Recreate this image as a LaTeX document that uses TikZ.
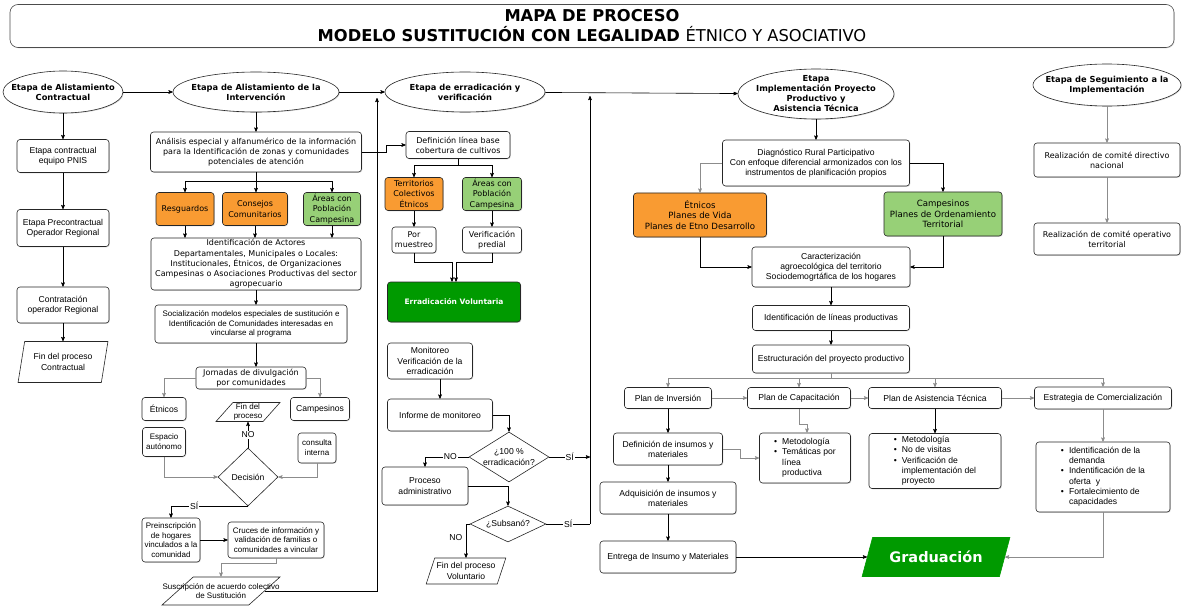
\documentclass[tikz,border=0pt]{standalone}
\usepackage{fontspec}
\setmainfont{Liberation Sans}
\newfontfamily\verd{DejaVu Sans}
\usepackage{tikz}
\usetikzlibrary{shapes,arrows,shadows}

\definecolor{naranja}{HTML}{F99B32}
\definecolor{verdeclaro}{HTML}{97D077}
\definecolor{verdeoscuro}{HTML}{009A00}
\newcommand{\txa}{\fontsize{8.6}{10.2}\selectfont}
\newcommand{\txb}{\fontsize{8}{9.8}\selectfont}
\newcommand{\txv}{\verd\fontsize{8}{10.2}\selectfont}
\newcommand{\txh}{\verd\bfseries\fontsize{8.3}{10}\selectfont}

\begin{document}
\begin{tikzpicture}[x=1pt,y=-1pt,->,>=stealth',semithick]
\tikzstyle{box}=[draw=black!85,rounded corners=3pt,fill=white,align=center,inner sep=1pt,font=\txa,drop shadow={opacity=0.3,shadow xshift=0.8pt,shadow yshift=-0.8pt}]
\tikzstyle{vbox}=[box,font=\txv]
\tikzstyle{etnico}=[vbox,fill=naranja]
\tikzstyle{campo}=[vbox,fill=verdeclaro]
\tikzstyle{stage}=[ellipse,draw=black!85,fill=white,inner sep=0pt,drop shadow={opacity=0.3,shadow xshift=0.8pt,shadow yshift=-0.8pt}]
\tikzstyle{stagetxt}=[font=\txh,align=center]
\tikzstyle{decision}=[diamond,draw=black!85,fill=white,inner sep=0pt,align=center,font=\txa]
\tikzstyle{io}=[trapezium,trapezium stretches=true,draw=black!85,fill=white,inner sep=0pt,align=center,font=\txa]
\tikzstyle{lbl}=[fill=white,inner sep=1pt,font=\txa]
\tikzstyle{gris}=[draw=black!45]

\useasboundingbox (0,0) rectangle (1184,607);

\node[draw=black!70,rounded corners=8pt,minimum width=1164pt,minimum height=43pt,align=center,font=\verd\bfseries\fontsize{16.3}{20}\selectfont,drop shadow={opacity=0.25,shadow xshift=0.8pt,shadow yshift=-0.8pt},fill=white] (titulo) at (592,26) {MAPA DE PROCESO\\MODELO SUSTITUCIÓN CON LEGALIDAD {\mdseries ÉTNICO Y ASOCIATIVO}};

% alistamiento contractual
\node[stage,minimum width=120pt,minimum height=42pt,label={[stagetxt]center:Etapa de Alistamiento\\Contractual}] (ealist) at (63,92) {\phantom{x}};
\node[box,minimum width=92pt,minimum height=33pt] (pnis) at (63,156) {Etapa contractual\\equipo PNIS};
\node[box,minimum width=92pt,minimum height=37pt] (precon) at (63,228) {Etapa Precontractual\\Operador Regional};
\node[box,minimum width=92pt,minimum height=36pt] (contrat) at (63,305) {Contratación\\operador Regional};
\node[io,trapezium left angle=73,trapezium right angle=107,minimum width=90pt,minimum height=41pt] (fincon) at (63,362) {Fin del proceso\\Contractual};
\path (ealist) edge (pnis)
      (pnis) edge (precon)
      (precon) edge (contrat)
      (contrat) edge (fincon);

% alistamiento de la intervencion
\node[stage,minimum width=166pt,minimum height=40pt,label={[stagetxt]center:Etapa de Alistamiento de la\\Intervención}] (eintv) at (256,92) {\phantom{x}};
\node[vbox,minimum width=211pt,minimum height=40pt] (analisis) at (256,152) {Análisis especial y alfanumérico de la información\\para la Identificación de zonas y comunidades\\potenciales de atención};
\node[etnico,minimum width=58pt,minimum height=33pt] (resg) at (185,209) {Resguardos};
\node[etnico,minimum width=65pt,minimum height=33pt] (consejos) at (255,209) {Consejos\\Comunitarios};
\node[campo,minimum width=57pt,minimum height=33pt] (areas) at (332,209) {Áreas con\\Población\\Campesina};
\node[vbox,minimum width=210pt,minimum height=52pt] (actores) at (256,264) {Identificación de Actores\\Departamentales, Municipales o Locales:\\Institucionales, Étnicos, de Organizaciones\\Campesinas o Asociaciones Productivas del sector\\agropecuario};
\node[box,font=\txb,minimum width=192pt,minimum height=38pt] (social) at (251,324) {Socialización modelos especiales de sustitución e\\Identificación de Comunidades interesadas en\\vincularse al programa};
\node[vbox,minimum width=110pt,minimum height=22pt] (jornadas) at (251,378) {Jornadas de divulgación\\por comunidades};
\node[box,minimum width=44pt,minimum height=23pt] (etn) at (164,409) {Étnicos};
\node[box,minimum width=59pt,minimum height=23pt] (camp) at (320,409) {Campesinos};
\node[io,trapezium left angle=62,trapezium right angle=118,minimum width=64pt,minimum height=19pt,label={[font=\txb,align=center]center:Fin del\\proceso}] (finp) at (248,412) {\phantom{x}};
\node[box,font=\txb,minimum width=43pt,minimum height=29pt] (espacio) at (164,442) {Espacio\\autónomo};
\node[box,font=\txb,minimum width=38pt,minimum height=30pt] (consulta) at (317,448) {consulta\\interna};
\node[decision,minimum width=60pt,minimum height=58pt] (decision) at (248,477) {Decisión};
\node[box,font=\txb,minimum width=58pt,minimum height=44pt] (preins) at (171,540) {Preinscripción\\de hogares\\vinculados a la\\comunidad};
\node[box,font=\txb,minimum width=96pt,minimum height=36pt] (cruces) at (276,540) {Cruces de información y\\validación de familias o\\comunidades a vincular};
\node[io,trapezium left angle=62,trapezium right angle=118,minimum width=118pt,minimum height=28pt,label={[font=\txb,align=center]center:Suscripción de acuerdo colectivo\\de Sustitución}] (suscrip) at (221,591) {\phantom{x}};
\coordinate (retorno) at (377,98);

\path (ealist) edge (eintv)
      (eintv) edge (analisis);
\draw (analisis.south) -- ++(0,9) -| (resg);
\draw (analisis.south) -- ++(0,9) -| (areas);
\draw (analisis.south) -- (analisis.south |- consejos.north);
\draw (resg) -- (resg |- actores.north);
\draw (consejos) -- (consejos |- actores.north);
\draw (areas) -- (areas |- actores.north);
\draw (actores) -- (actores |- social.north);
\draw (social.south -| actores) -- (jornadas.north -| actores);
\draw[gris] (jornadas.west) -| (etn);
\draw[gris] (jornadas.east) -| (camp);
\draw (decision) -- node[lbl]{NO} (finp);
\draw[gris] (espacio) |- (decision);
\draw[gris] (consulta) |- (decision);
\draw (decision.south) -| node[lbl,pos=0.35]{SÍ} (preins);
\draw (preins) -- (cruces);
\draw[gris] (cruces.south) -- ++(0,5) -| (suscrip);
\draw (suscrip.east) -| (retorno);

% erradicacion y verificacion
\node[stage,minimum width=160pt,minimum height=40pt,label={[stagetxt]center:Etapa de erradicación y\\verificación}] (errad) at (465,92) {\phantom{x}};
\node[vbox,minimum width=104pt,minimum height=27pt] (lineabase) at (458,145) {Definición línea base\\cobertura de cultivos};
\node[etnico,minimum width=58pt,minimum height=33pt] (territorios) at (414,194) {Territorios\\Colectivos\\Étnicos};
\node[campo,minimum width=59pt,minimum height=33pt] (areas2) at (492,194) {Áreas con\\Población\\Campesina};
\node[vbox,minimum width=44pt,minimum height=26pt] (muestreo) at (414,240) {Por\\muestreo};
\node[vbox,minimum width=59pt,minimum height=26pt] (predial) at (492,240) {Verificación\\predial};
\node[box,fill=verdeoscuro,text=white,font=\verd\bfseries\fontsize{7.5}{9}\selectfont,minimum width=133pt,minimum height=40pt] (voluntaria) at (454,302) {Erradicación Voluntaria};
\node[box,minimum width=85pt,minimum height=36pt] (monitoreo) at (430,361) {Monitoreo\\Verificación de la\\erradicación};
\node[box,minimum width=105pt,minimum height=32pt] (informe) at (440,415) {Informe de monitoreo};
\node[decision,aspect=1.55,minimum width=80pt,minimum height=50pt] (cien) at (509,457) {¿100 \%\\erradicación?};
\node[box,minimum width=86pt,minimum height=38pt] (admin) at (425,486) {Proceso\\administrativo};
\node[decision,aspect=2.1,minimum width=76pt,minimum height=36pt] (subsano) at (508,524) {¿Subsanó?};
\node[io,trapezium left angle=64,trapezium right angle=116,minimum width=80pt,minimum height=26pt] (finvol) at (466,571) {Fin del proceso\\Voluntario};
\coordinate (vsi) at (590,524);
\coordinate (vtop) at (590,96);

\path (eintv) edge (errad);
\draw (analisis.east) -- ++(24,0) |- (lineabase.west);
\draw (lineabase.south) -- ++(0,7) -| (territorios);
\draw (lineabase.south) -- ++(0,7) -| (areas2);
\path (territorios) edge (muestreo)
      (areas2) edge (predial);
\draw (muestreo.south) -- ++(0,9) -| ([xshift=-2pt]voluntaria.north);
\draw (predial.south) -- ++(0,9) -| ([xshift=2pt]voluntaria.north);
\draw (informe.north |- monitoreo.south) -- (informe.north);
\draw (informe.east) -| (cien);
\draw (cien.west) -| node[lbl,pos=0.21]{NO} (admin);
\draw (cien.east) -- node[lbl]{SÍ} (cien.east -| vsi);
\draw (admin.east) -| (subsano);
\draw[-] (subsano.east) -- node[lbl]{SÍ} (vsi);
\draw (vsi) -- (vtop);
\draw (subsano.west) -| node[left,font=\txa,pos=0.7]{NO} (finvol);

% implementacion
\node[stage,minimum width=156pt,minimum height=50pt,label={[stagetxt]center:Etapa\\Implementación Proyecto\\Productivo y\\Asistencia Técnica}] (implem) at (816,94) {\phantom{x}};
\node[box,minimum width=187pt,minimum height=46pt] (diagnostico) at (816,163) {Diagnóstico Rural Participativo\\Con enfoque diferencial armonizados con los\\instrumentos de planificación propios};
\node[etnico,font=\verd\fontsize{8.6}{10.5}\selectfont,minimum width=133pt,minimum height=44pt] (etnicos) at (700,215) {Étnicos\\Planes de Vida\\Planes de Etno Desarrollo};
\node[campo,font=\verd\fontsize{8.6}{10.5}\selectfont,minimum width=118pt,minimum height=44pt] (campesinos) at (943,214) {Campesinos\\Planes de Ordenamiento\\Territorial};
\node[box,minimum width=158pt,minimum height=40pt] (caract) at (831,267) {Caracterización\\agroecológica del territorio\\Sociodemogrtáfica de los hogares};
\node[box,minimum width=157pt,minimum height=25pt] (lineas) at (831,318) {Identificación de líneas productivas};
\node[box,minimum width=157pt,minimum height=28pt] (estruct) at (831,359) {Estructuración del proyecto productivo};
\node[box,minimum width=87pt,minimum height=21pt] (inversion) at (668,398) {Plan de Inversión};
\node[box,minimum width=103pt,minimum height=21pt] (capacit) at (799,398) {Plan de Capacitación};
\node[box,minimum width=133pt,minimum height=21pt] (asist) at (935,398) {Plan de Asistencia Técnica};
\node[box,minimum width=137pt,minimum height=22pt] (comerc) at (1103,398) {Estrategia de Comercialización};
\node[box,minimum width=109pt,minimum height=32pt] (insumos) at (668,449) {Definición de insumos y\\materiales};
\node[box,minimum width=91pt,minimum height=50pt] (bcapac) at (805,458) {\begin{tabular}{@{}l@{\hspace{5pt}}l@{}}\textbullet & Metodología\\ \textbullet & Temáticas por\\ & línea\\ & productiva\end{tabular}};
\node[box,minimum width=132pt,minimum height=55pt] (basist) at (935,461) {\begin{tabular}{@{}l@{\hspace{5pt}}l@{}}\textbullet & Metodología\\ \textbullet & No de visitas\\ \textbullet & Verificación de\\ & implementación del\\ & proyecto\end{tabular}};
\node[box,minimum width=134pt,minimum height=70pt] (bcomerc) at (1103,477) {\begin{tabular}{@{}l@{\hspace{5pt}}l@{}}\textbullet & Identificación de la\\ & demanda\\ \textbullet & Indentificación de la\\ & oferta\ \ y\\ \textbullet & Fortalecimiento de\\ & capacidades\end{tabular}};
\node[box,minimum width=136pt,minimum height=32pt] (adquis) at (668,498) {Adquisición de insumos y\\materiales};
\node[box,minimum width=136pt,minimum height=32pt] (entrega) at (668,557) {Entrega de Insumo y Materiales};
\node[io,fill=verdeoscuro,draw=verdeoscuro,text=white,trapezium left angle=57,trapezium right angle=123,minimum width=148pt,minimum height=39pt,font=\verd\bfseries\fontsize{14.5}{16}\selectfont] (graduacion) at (936,557) {Graduación};

\path (errad) edge (implem)
      (implem) edge (diagnostico);
\draw[gris] (diagnostico.west) -| (etnicos);
\draw (diagnostico.east) -| (campesinos);
\draw (etnicos.south) |- (caract.west);
\draw (campesinos.south) |- (caract.east);
\path (caract) edge (lineas)
      (lineas) edge (estruct);
\draw[gris] (estruct.south) -- ++(0,5) -| (inversion);
\draw[gris] (estruct.south) -- ++(0,5) -| (capacit);
\draw[gris] (estruct.south) -- ++(0,5) -| (asist);
\draw[gris] (estruct.south) -- ++(0,5) -| (comerc);
\draw[gris] (inversion) -- (capacit);
\draw[gris] (capacit) -- (asist);
\draw[gris] (asist) -- (comerc);
\draw[gris] (insumos.east) -- ++(17,0) |- (bcapac.west);
\draw[gris] (capacit.south) -- ++(0,15) -| ([xshift=2pt]bcapac.north);
\path (inversion) edge (insumos)
      (asist) edge (basist)
      (insumos) edge (adquis)
      (adquis) edge (entrega)
      (entrega) edge (graduacion);
\draw[gris] (comerc) -- (bcomerc);
\draw[gris] (bcomerc.south) |- (graduacion.east);

% seguimiento
\node[stage,minimum width=148pt,minimum height=42pt,label={[stagetxt]center:Etapa de Seguimiento a la\\Implementación}] (seguim) at (1107,85) {\phantom{x}};
\node[vbox,minimum width=146pt,minimum height=34pt] (comitedir) at (1107,160) {Realización de comité directivo\\nacional};
\node[vbox,minimum width=146pt,minimum height=32pt] (comiteop) at (1107,239) {Realización de comité operativo\\territorial};
\draw[gris] (seguim) -- (comitedir);
\draw[gris] (comitedir) -- (comiteop);
\end{tikzpicture}
\end{document}
